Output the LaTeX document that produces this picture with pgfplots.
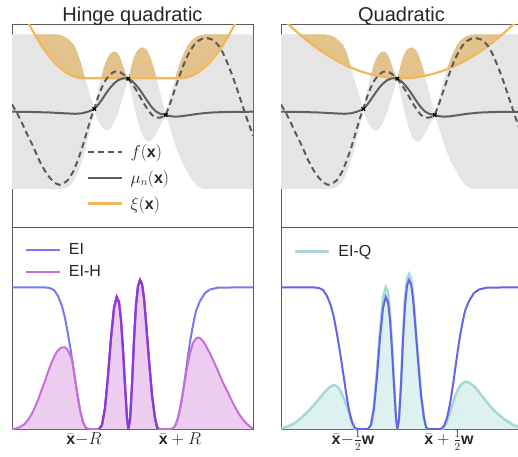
\documentclass[border=0pt]{standalone}
\usepackage{fontspec}
\setmainfont{Liberation Sans}
\usepackage{pgfplots}
\pgfplotsset{compat=1.18}
\usepackage{pgfplotstable}
\usepgfplotslibrary{fillbetween}

\definecolor{spinecol}{RGB}{90,90,90}
\definecolor{titlecol}{RGB}{38,38,38}
\definecolor{bandgray}{RGB}{229,229,229}
\definecolor{orfill}{RGB}{227,194,139}
\definecolor{orline}{RGB}{242,183,90}
\definecolor{mugray}{RGB}{95,95,95}
\definecolor{fgray}{RGB}{90,90,90}
\definecolor{eiblue}{RGB}{120,120,245}
\definecolor{eiblueR}{RGB}{100,100,235}
\definecolor{eihline}{RGB}{200,110,215}
\definecolor{eihfill}{RGB}{236,205,240}
\definecolor{eipurple}{RGB}{138,58,214}
\definecolor{eiqline}{RGB}{166,216,216}
\definecolor{eiqfill}{RGB}{222,241,241}

% ---------- data (x in panel pixels, y in pixels from top of image) ----------
\pgfplotstableread{
x y
12 34.3
56 34.3
62 35.5
66 37.5
70 40.7
74 45
77 51
80 60
82 67
84 75
86 82
88 88
90 95
92 101
94.3 109
96 101
98 91
101 78
104 67
107 59
110 54
113 51.8
115 51.5
117 52.5
119 55.5
121 60
123 66
125 72
126.5 75.5
128.3 78.7
130 72
132 64
134 57
137 51
140 48
143 47.5
146 49
149 54
152 62
155 72
158 84
161 96
163.5 106
165.7 115
168 105
170 97
173 86
176 75
180 63
184 53
188 45
192 40
196 37
200 35.3
205 34.5
210 34.3
253 34.3
}\upT

\pgfplotstableread{
x y
12 189
60 189
64 188.5
68 187
72 183.5
76 177
80 167
84 154
87 142
90 130
92.5 119
94.3 109
96 116
98 121
101 126
104 129.5
107 130.5
110 129
113 124.5
116 118
119 110
122 100
125 90
128.3 78.7
131 92
134 106
137 118
140 129
143 136.5
146 140.5
149 141.7
152 140
155 135.5
158 129.5
161 124
163.5 120
165.7 115
168 122
170 128
173 138
177 150
182 162
187 171
192 180
197 186
203 189
253 189
}\loT

\pgfplotstableread{
x y
12 111.7
30 111.9
50 112.5
65 113.3
75 113.8
82 113.3
87 112
91 110.5
94.3 109
98 105
102 99.5
106 93.5
110 88
114 83.5
118 80.3
122 78.6
125 78.2
128.3 78.7
132 81
136 85
140 90
144 96
148 102
152 107.5
156 111.5
160 113.7
165.7 115
170 116.2
175 116.6
180 116.4
188 115.3
198 113.8
210 112.6
225 112
253 111.7
}\muT

\pgfplotstableread{
x y
12 104.5
17 113
22 123
27 134
33 146
39 160
45 171
50 178
55 183
59 184.8
63 184
68 180
73 172
78 160
83 145
88 128
91 118
94.3 109
98 97
102 87
106 79.5
110 74.5
114 71.8
117 71.3
120 72.2
124 74.7
128.3 78.7
133 85
138 93
143 102
148 110
152 115
156 117.5
160 117.6
163 116.5
165.7 115
168 109
171 101
174 92
178 80
182 69
186 59
190 51
194 45
198 41
202 38.8
207 38.2
211 39
215 41.5
219 46
223 53
227 62
231 72
235 83
239 95
243 107
247 119
251 130
253 136
}\fT

\pgfplotstableread{
x y
94.3 109
128.3 78.7
165.7 115
}\ptsT

\pgfplotstableread{
x y
24 13
26 17.7
30 25.8
36 36.8
42 46.5
48 55.0
54 62.1
60 67.9
66 72.5
72 75.7
78 77.65
84 78.3
180 78.3
186 77.65
192 75.7
198 72.5
204 67.9
210 62.1
216 55.0
222 46.5
228 36.8
234 25.8
238 17.7
240 13
}\xihT

\pgfplotstableread{
x y
12 16.9
20 24.8
30 33.9
40 42.2
50 49.6
60 56.2
70 61.9
80 66.8
90 70.8
100 73.9
110 76.2
120 77.7
132 78.3
144 77.7
154 76.2
164 73.9
174 70.8
184 66.8
194 61.9
204 56.2
214 49.6
224 42.2
234 33.9
244 24.8
253 15.8
}\xiqT

\pgfplotstableread{
x y
12 287.3
44 287.3
50 288
54 290
58 296
62 306
65 318
68 334
71 352
74 372
77 392
80 410
83 422
86 428
89 429
99 429
102 425
105 408
108 376
111 338
114 308
116.7 297
119 302
121 320
123 350
125 385
127 418
128.3 429
130 420
132 385
134 340
136 305
138 286
140 280
142 284
144 298
146 322
149 360
152 395
155 418
157 427
158.5 429
172 429
175 426
178 418
181 404
184 385
187 363
190 342
193 325
196 311
200 301
205 293
210 289.5
218 287.6
253 287.3
}\eiT

\pgfplotstableread{
x y
12 429
16 428.5
20 427
24 424.5
28 420
32 413.5
35 407
38 400
42 389
45 381
48 372
51 364
54 357
57 351.5
60 348.5
62 347.3
65 347.3
67 349
69 352.5
71 357
72.5 362
74 372
77 392
80 410
83 422
86 428
89 429
99 429
102 425
105 408
108 376
111 338
114 308
116.7 297
119 302
121 320
123 350
125 385
127 418
128.3 429
130 420
132 385
134 340
136 305
138 286
140 280
142 284
144 298
146 322
149 360
152 395
155 418
157 427
158.5 429
172 429
175 426
178 418
181 404
184 386
187 368
190 353
193 343
196 338.5
198 337.5
200 338
203 341
206 346
210 353.3
214 362
218 371
222 380.5
226.7 390
231 399
235 407
239 414
243.3 420
247 424
250 426.5
253 428.5
}\eihT

\pgfplotstableread{
x y
12 428.5
20 426
26 423
32 418
38 412.5
44 406
50 399
54 394
58 389.5
62 386.2
65 385
68 386.3
71 390
74.3 396.7
77 404
80 413
82.7 422
85 428
87 429
99 429
102 425
105 406
108 370
111 330
114 297
116.7 287.3
119 292
121 312
123 345
125 383
127 418
128.3 429
130 419
132 383
134 336
136 298
138 279
140 274
142 278
144 293
146 318
149 358
152 394
155 418
157 427
158.5 429
173.7 429
177 424
180 416
183 406
186 396.5
189 389.5
192 384.8
195 382.2
197 381.7
200 382.5
205 386
210 392
217.7 402
225 410.5
235 419
244.3 425
253 428
}\eiqT

\pgfplotsset{
  panel/.style={
    scale only axis, width=241pt, xmin=12, xmax=253,
    y filter/.expression={-y},
    axis line style={spinecol, line width=1pt},
    xtick=\empty, ytick=\empty, major tick length=0pt,
    legend cell align=left,
    legend image code/.code={\draw[##1] (0pt,0pt) -- (34pt,0pt);},
  },
  toppanel/.style={panel, height=203pt, ymin=-227, ymax=-24,
    title style={font=\fontsize{20}{24}\selectfont, text=titlecol, at={(0.5,1)}, anchor=base, yshift=-3pt}},
  botpanel/.style={panel, height=202pt, ymin=-429, ymax=-227,
    xtick={84,180},
    xticklabel style={font=\fontsize{16}{19}\selectfont, text=titlecol, anchor=base, yshift=-15.5pt}},
  leg/.style={legend style={draw=none, fill=none, anchor=north west, inner sep=0pt,
    nodes={inner sep=2pt}, column sep=6pt, row sep=4pt, text=titlecol,
    font=\fontsize{16}{19}\selectfont}},
  fstyle/.style={fgray, line width=2pt, dash pattern=on 6pt off 4pt},
  mustyle/.style={mugray, line width=2pt},
  xistyle/.style={orline, line width=2.2pt},
}

\begin{document}
\begin{tikzpicture}
% ================= top left =================
\begin{axis}[toppanel, at={(12pt,-227pt)}, anchor=south west, title={Hinge quadratic}, leg,
  legend style={at={(axis description cs:0.308,0.418)}, row sep=7.5pt}]
\addlegendimage{fstyle}\addlegendentry{$f(\mathbf{x})$}
\addlegendimage{mustyle}\addlegendentry{$\mu_n(\mathbf{x})$}
\addlegendimage{xistyle}\addlegendentry{$\xi(\mathbf{x})$}
\addplot[draw=none, name path=up, forget plot] table {\upT};
\addplot[draw=none, name path=lo, forget plot] table {\loT};
\addplot[draw=none, name path=xi, forget plot] table {\xihT};
\addplot[fill=bandgray, draw=none, forget plot] fill between[of=up and lo];
\addplot[fill=orfill, draw=none, forget plot] fill between[of=up and xi, soft clip={domain=34.6:85.2}];
\addplot[fill=orfill, draw=none, forget plot] fill between[of=up and xi, soft clip={domain=100.6:128.3}];
\addplot[fill=orfill, draw=none, forget plot] fill between[of=up and xi, soft clip={domain=128.3:155.7}];
\addplot[fill=orfill, draw=none, forget plot] fill between[of=up and xi, soft clip={domain=175.3:229.5}];
\addplot[xistyle, forget plot] table {\xihT};
\addplot[fstyle, forget plot] table {\fT};
\addplot[mustyle, forget plot] table {\muT};
\addplot[only marks, mark=x, mark size=2.5pt, black, line width=1.2pt, forget plot] table {\ptsT};
\end{axis}

% ================= top right =================
\begin{axis}[toppanel, at={(281pt,-227pt)}, anchor=south west, title={Quadratic}]
\addplot[draw=none, name path=up, forget plot] table {\upT};
\addplot[draw=none, name path=lo, forget plot] table {\loT};
\addplot[draw=none, name path=xi, forget plot] table {\xiqT};
\addplot[fill=bandgray, draw=none, forget plot] fill between[of=up and lo];
\addplot[fill=orfill, draw=none, forget plot] fill between[of=up and xi, soft clip={domain=30.6:82.1}];
\addplot[fill=orfill, draw=none, forget plot] fill between[of=up and xi, soft clip={domain=102.5:128.3}];
\addplot[fill=orfill, draw=none, forget plot] fill between[of=up and xi, soft clip={domain=128.3:155.8}];
\addplot[fill=orfill, draw=none, forget plot] fill between[of=up and xi, soft clip={domain=178:233.2}];
\addplot[xistyle, forget plot] table {\xiqT};
\addplot[fstyle, forget plot] table {\fT};
\addplot[mustyle, forget plot] table {\muT};
\addplot[only marks, mark=x, mark size=2.5pt, black, line width=1.2pt, forget plot] table {\ptsT};
\end{axis}

% ================= bottom left =================
\begin{axis}[botpanel, at={(12pt,-429pt)}, anchor=south west, leg,
  legend style={at={(axis description cs:0.053,0.928)}, row sep=5.5pt},
  xticklabels={$\bar{\mathbf{x}}{-}R$, $\bar{\mathbf{x}}+R$}]
\addlegendimage{eiblue, line width=2pt}\addlegendentry{EI}
\addlegendimage{eihline, line width=2pt}\addlegendentry{EI-H}
\addplot[draw=none, name path=base, forget plot] coordinates {(12,429) (253,429)};
\addplot[draw=none, name path=eih, forget plot] table {\eihT};
\addplot[fill=eihfill, draw=none, forget plot] fill between[of=eih and base];
\addplot[eiblue, line width=2pt, forget plot] table {\eiT};
\addplot[eihline, line width=2pt, forget plot] table {\eihT};
\addplot[eipurple, line width=2.2pt, forget plot, restrict x to domain=98:159.5] table {\eiT};
\end{axis}

% ================= bottom right =================
\begin{axis}[botpanel, at={(281pt,-429pt)}, anchor=south west, leg,
  legend style={at={(axis description cs:0.053,0.92)}},
  xticklabels={$\bar{\mathbf{x}}{-}\frac{1}{2}\mathbf{w}$, $\bar{\mathbf{x}}+\frac{1}{2}\mathbf{w}$}]
\addlegendimage{eiqline, line width=2.5pt}\addlegendentry{EI-Q}
\addplot[draw=none, name path=base, forget plot] coordinates {(12,429) (253,429)};
\addplot[draw=none, name path=eiq, forget plot] table {\eiqT};
\addplot[fill=eiqfill, draw=none, forget plot] fill between[of=eiq and base];
\addplot[eiqline, line width=2.5pt, forget plot] table {\eiqT};
\addplot[eiblueR, line width=2pt, forget plot] table {\eiT};
\end{axis}

\pgfresetboundingbox
\path[use as bounding box] (0pt,0pt) rectangle (518pt,-456pt);
\end{tikzpicture}
\end{document}
